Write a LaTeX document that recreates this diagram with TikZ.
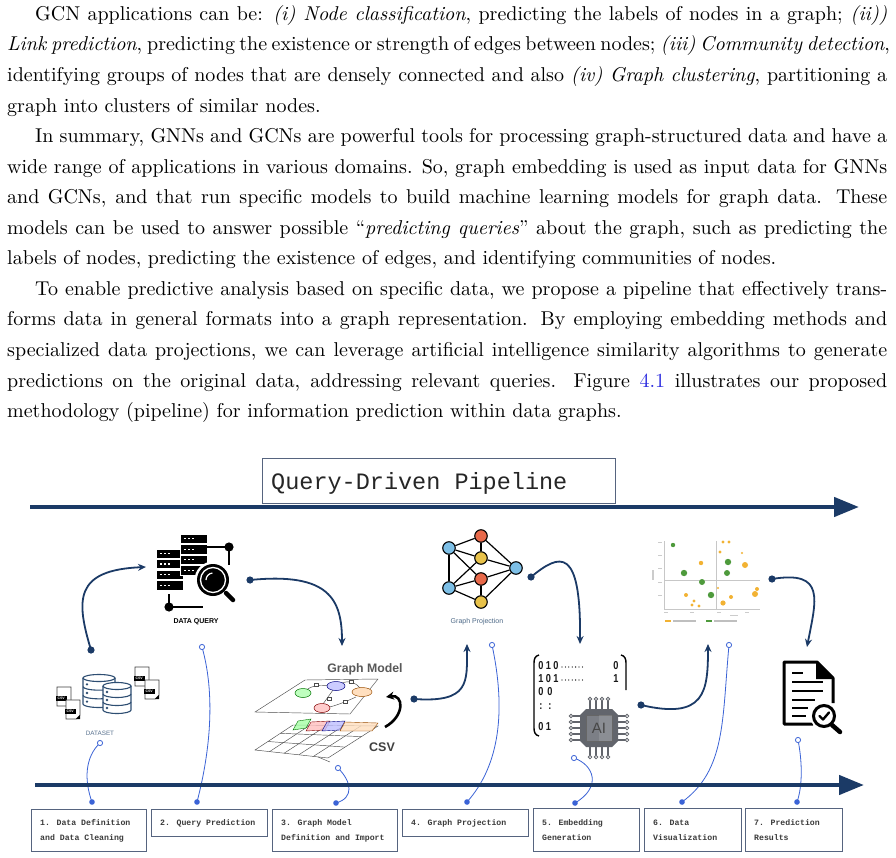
\documentclass[tikz,border=0pt]{standalone}
\usepackage{fontspec}
\setmainfont{lmroman10-regular.otf}[ItalicFont=lmroman10-italic.otf,BoldFont=lmroman10-bold.otf]
\newfontfamily\monofont{Liberation Mono}
\newfontfamily\sansfont{Liberation Sans}
\usetikzlibrary{arrows.meta}
\definecolor{navyc}{HTML}{1B3A66}
\definecolor{thinblue}{HTML}{3B63D6}
\definecolor{boxc}{HTML}{56647F}
\definecolor{txtgray}{HTML}{3A3A3A}
\definecolor{linkblue}{HTML}{2B2BE0}
\definecolor{dbc}{HTML}{2E4E72}
\definecolor{gpblue}{HTML}{7DBFE6}
\definecolor{gpred}{HTML}{E8694A}
\definecolor{gpyel}{HTML}{E8C24A}
\definecolor{scgreen}{HTML}{4E9A3C}
\definecolor{scorange}{HTML}{F2B233}
\definecolor{chipc}{HTML}{62656C}
\definecolor{chipin}{HTML}{7C7F86}
\tikzset{
  txtline/.style={anchor=base west,inner sep=0pt,font=\fontsize{20}{22}\selectfont},
  bigarrow/.style={draw=navyc,line width=4.5pt,-{Triangle[length=25pt,width=19pt]}},
  navyline/.style={draw=navyc,line width=1.8pt,-{Stealth[length=8pt,width=7pt]}},
  navydot/.style={fill=navyc},
  blueline/.style={draw=thinblue,line width=0.8pt},
  bluedot/.style={fill=thinblue},
  blueopen/.style={draw=thinblue,line width=0.8pt,fill=white},
  stepbox/.style={draw=boxc,line width=1pt,fill=white},
  steptext/.style={anchor=base west,inner sep=0pt,text=txtgray,font=\monofont\bfseries\fontsize{8.2}{10}\selectfont},
  dbline/.style={draw=dbc,line width=1.1pt},
  sketch/.style={draw=black!70,line width=0.45pt},
  gpnode/.style={circle,draw=black,line width=1.1pt,minimum size=12.5pt,inner sep=0pt},
  gpedge/.style={draw=black,line width=1.2pt},
  digit/.style={inner sep=0pt,font=\sansfont\bfseries\fontsize{11.5}{12}\selectfont,text=black!90},
  axisc/.style={draw=black!22,line width=0.8pt},
}
\newcommand\mydig[1]{\scalebox{0.8}[1]{#1}}
\newcommand\mydbcyl[4]{%
  \fill[white] (#1-#3,#2) rectangle (#1+#3,#2+#4);
  \fill[white] (#1,#2+#4) ellipse[x radius=#3,y radius=3.5];
  \draw[dbline] (#1-#3,#2) -- (#1-#3,#2+#4) arc[start angle=180,end angle=0,x radius=#3,y radius=3.5] -- (#1+#3,#2);
  \draw[dbline] (#1-#3,#2+#4/3) arc[start angle=180,end angle=0,x radius=#3,y radius=3.5];
  \draw[dbline] (#1-#3,#2+2*#4/3) arc[start angle=180,end angle=0,x radius=#3,y radius=3.5];
  \draw[dbline,fill=white] (#1,#2) ellipse[x radius=#3,y radius=3.5];
  \fill[dbc] (#1-#3+4,#2+#4/6+2) circle (1.3);
  \fill[dbc] (#1-#3+4,#2+#4/2+2) circle (1.3);
  \fill[dbc] (#1-#3+4,#2+5*#4/6+2) circle (1.3);
}
\newcommand\mycsvdoc[2]{%
  \draw[draw=black!75,line width=0.7pt,fill=white] (#1,#2) -- (#1+14,#2) -- (#1+14,#2+15) -- (#1+10,#2+19) -- (#1,#2+19) -- cycle;
  \fill[black] (#1+14,#2+15) -- (#1+14,#2+19) -- (#1+10,#2+19) -- cycle;
  \fill[black] (#1-1.5,#2+8.5) rectangle (#1+10,#2+13.5);
  \node[inner sep=0pt,text=white,font=\sansfont\bfseries\fontsize{3.5}{4}\selectfont] at (#1+4.2,#2+11) {CSV};
}
\newcommand\myserver[3]{%
  \draw[fill=black,draw=white,line width=0.9pt] (#1,#2) rectangle (#1+27,#2+#3);
  \fill[white] (#1+4,#2+#3/2-0.7) rectangle (#1+6.2,#2+#3/2+0.7);
  \fill[white] (#1+8,#2+#3/2-0.7) rectangle (#1+10.2,#2+#3/2+0.7);
  \fill[white] (#1+12,#2+#3/2-0.7) rectangle (#1+14.2,#2+#3/2+0.7);
}
\begin{document}
\begin{tikzpicture}[x=1pt,y=-1pt]
\useasboundingbox (0,0) rectangle (896,858);
\fill[white] (0,0) rectangle (896,858);

% ---------------- text ----------------
\node[txtline] (l1) at (35,20.5) {\makebox[852pt][s]{GCN applications can be: \textit{(i) Node classification}, predicting the labels of nodes in a graph; \textit{(ii))}}};
\node[txtline] (l2) at (7,51) {\makebox[880pt][s]{\textit{Link prediction}, predicting the existence or strength of edges between nodes; \textit{(iii) Community detection},}};
\node[txtline] (l3) at (7,81.6) {\makebox[880pt][s]{identifying groups of nodes that are densely connected and also \textit{(iv) Graph clustering}, partitioning a}};
\node[txtline] (l4) at (7,112.2) {graph into clusters of similar nodes.};
\node[txtline] (l5) at (35,142.7) {\makebox[852pt][s]{In summary, GNNs and GCNs are powerful tools for processing graph-structured data and have a}};
\node[txtline] (l6) at (7,173.3) {\makebox[880pt][s]{wide range of applications in various domains. So, graph embedding is used as input data for GNNs}};
\node[txtline] (l7) at (7,203.8) {\makebox[880pt][s]{and GCNs, and that run specific models to build machine learning models for graph data. These}};
\node[txtline] (l8) at (7,234.4) {\makebox[880pt][s]{models can be used to answer possible “\textit{predicting queries}” about the graph, such as predicting the}};
\node[txtline] (l9) at (7,264.9) {labels of nodes, predicting the existence of edges, and identifying communities of nodes.};
\node[txtline] (l10) at (35,295.5) {\makebox[852pt][s]{To enable predictive analysis based on specific data, we propose a pipeline that effectively trans-}};
\node[txtline] (l11) at (7,326) {\makebox[880pt][s]{forms data in general formats into a graph representation. By employing embedding methods and}};
\node[txtline] (l12) at (7,356.6) {\makebox[880pt][s]{specialized data projections, we can leverage artificial intelligence similarity algorithms to generate}};
\node[txtline] (l13) at (7,387.1) {\makebox[880pt][s]{predictions on the original data, addressing relevant queries. Figure \textcolor{linkblue}{4.1} illustrates our proposed}};
\node[txtline] (l14) at (7,417.7) {methodology (pipeline) for information prediction within data graphs.};

% ---------------- title and big arrows ----------------
\node[draw=boxc,line width=0.9pt,minimum width=353pt,minimum height=45pt,inner sep=0pt] (title) at (438.5,480.5) {};
\node[anchor=base west,inner sep=0pt,text=black!85,font=\monofont\fontsize{23.5}{26}\selectfont] (titletxt) at (271,489) {Query-Driven Pipeline};
\coordinate (ta0) at (30,507);
\coordinate (ta1) at (859,507);
\draw[bigarrow] (ta0) -- (ta1);

% ---------------- thin blue connectors ----------------
\coordinate (c1a) at (100,743); \coordinate (c1b) at (92,802);
\coordinate (c2a) at (202,647); \coordinate (c2b) at (197,802);
\coordinate (c3a) at (338,768); \coordinate (c3b) at (336,803);
\coordinate (c4a) at (492,645); \coordinate (c4b) at (467,802);
\coordinate (c5a) at (574,758); \coordinate (c5b) at (575,803);
\coordinate (c6a) at (729,645); \coordinate (c6b) at (682,802);
\coordinate (c7a) at (798,740); \coordinate (c7b) at (797,802);
\draw[blueline] (c1a) .. controls (85,757) and (84,780) .. (c1b);
\draw[blueline] (c2a) .. controls (217,700) and (208,760) .. (c2b);
\draw[blueline] (c3a) .. controls (352,782) and (354,798) .. (c3b);
\draw[blueline] (c4a) .. controls (506,710) and (500,765) .. (c4b);
\draw[blueline] (c5a) .. controls (594,765) and (602,787) .. (c5b);
\draw[blueline] (c6a) .. controls (722,720) and (726,770) .. (c6b);
\draw[blueline] (c7a) .. controls (802,760) and (803,785) .. (c7b);

% bottom arrow
\coordinate (ba0) at (35,785);
\coordinate (ba1) at (864,785);
\draw[bigarrow] (ba0) -- (ba1);

\foreach \p in {c1a,c2a,c3a,c4a,c5a,c6a,c7a} \draw[blueopen] (\p) circle (2.6);
\foreach \p in {c1b,c2b,c3b,c4b,c5b,c6b,c7b} \fill[bluedot] (\p) circle (2.8);

% ---------------- step boxes ----------------
\node[stepbox,minimum width=115pt,minimum height=42pt,inner sep=0pt] (b1) at (88.5,830) {};
\node[stepbox,minimum width=116pt,minimum height=27pt,inner sep=0pt] (b2) at (209,822.5) {};
\node[stepbox,minimum width=125pt,minimum height=42pt,inner sep=0pt] (b3) at (334.5,830) {};
\node[stepbox,minimum width=126pt,minimum height=27pt,inner sep=0pt] (b4) at (465,822.5) {};
\node[stepbox,minimum width=106pt,minimum height=43pt,inner sep=0pt] (b5) at (586,829.5) {};
\node[stepbox,minimum width=97pt,minimum height=43pt,inner sep=0pt] (b6) at (692.5,829.5) {};
\node[stepbox,minimum width=97pt,minimum height=43pt,inner sep=0pt] (b7) at (793.5,829.5) {};
\node[steptext] (t1a) at (40,825.5) {1. Data Definition};
\node[steptext] (t1b) at (40,840.5) {and Data Cleaning};
\node[steptext] (t2a) at (160,825.5) {2. Query Prediction};
\node[steptext] (t3a) at (281,825.5) {3. Graph Model};
\node[steptext] (t3b) at (281,840.5) {Definition and Import};
\node[steptext] (t4a) at (411,825.5) {4. Graph Projection};
\node[steptext] (t5a) at (542,825) {5. Embedding};
\node[steptext] (t5b) at (542,840) {Generation};
\node[steptext] (t6a) at (653,825) {6. Data};
\node[steptext] (t6b) at (653,840) {Visualization};
\node[steptext] (t7a) at (754,825) {7. Prediction};
\node[steptext] (t7b) at (754,840) {Results};

% ---------------- DATASET icon ----------------
\mycsvdoc{57}{687}
\mycsvdoc{66}{700}
\mycsvdoc{135}{667}
\mycsvdoc{145}{680}
\mydbcyl{99}{678}{16}{26}
\mydbcyl{117}{686}{14}{24}
\node[inner sep=0pt,text=dbc!80,font=\sansfont\fontsize{6.3}{7}\selectfont] (dslabel) at (100,733) {DATASET};

% ---------------- DATA QUERY icon ----------------
\myserver{156}{549}{9}
\myserver{156}{559.5}{9}
\myserver{156}{570}{9}
\myserver{156}{580.5}{9.5}
\myserver{180}{534}{9.5}
\myserver{180}{544.5}{9.5}
\myserver{180}{555}{9.5}
\myserver{180}{565.5}{9.5}
\fill[white] (213,580) circle (18.5);
\fill[black] (213,580) circle (16);
\draw[white,line width=1.3pt] (213,580) circle (12.5);
\draw[white,line width=1.2pt] (206,580) arc[start angle=180,end angle=265,radius=7];
\draw[black,line width=4.5pt,line cap=round] (226,593) -- (233,600);
\draw[black,line width=1.3pt] (207,547) -- (229,547) -- (229,565);
\fill[black] (229,547) circle (4.6);
\draw[black,line width=1.3pt] (169,594) -- (169,607) -- (203,607);
\fill[black] (169,607) circle (4.6);
\node[inner sep=0pt,font=\sansfont\bfseries\fontsize{7}{8}\selectfont] (dqlabel) at (196,622) {DATA QUERY};

% ---------------- Graph model icon ----------------
\node[inner sep=0pt,text=black!65,font=\sansfont\bfseries\fontsize{12.3}{14}\selectfont] (gmlabel) at (365,669) {Graph Model};
\node[inner sep=0pt,text=black!75,font=\sansfont\bfseries\fontsize{12.5}{14}\selectfont] (csvlabel) at (382,747) {CSV};
\draw[sketch,fill=white] (305,680) -- (378,679) -- (350,714) -- (255,712) -- cycle;
\draw[sketch] (329,686) .. controls (318,684) and (312,686) .. (306,690);
\draw[sketch] (342,683) .. controls (350,680) and (356,683) .. (360,688);
\draw[sketch] (333,690) -- (323,704);
\draw[sketch] (356,697) .. controls (345,702) and (335,706) .. (329,707);
\draw[sketch,fill=white] (314,683.5) rectangle (318,686.5);
\draw[sketch,fill=white] (349,680) rectangle (353,683);
\draw[sketch,fill=white] (327,697) rectangle (331,700);
\draw[sketch,fill=white] (343,700) rectangle (347,703);
\draw[draw=green!45!black,line width=0.5pt,fill=green!25] (303,693) ellipse[x radius=8,y radius=4.5];
\draw[draw=blue!50!black,line width=0.5pt,fill=blue!20] (336,686) ellipse[x radius=9,y radius=4.5];
\draw[draw=orange!60!black,line width=0.5pt,fill=orange!25] (362,692) ellipse[x radius=10,y radius=4.5];
\draw[draw=red!50!black,line width=0.5pt,fill=red!20] (322,708) ellipse[x radius=8,y radius=4.5];
% table
\draw[sketch,fill=white] (293,725) -- (378,726) -- (328,758) -- (255,750) -- cycle;
\draw[sketch] (310,725.2) -- (269.6,751.6);
\draw[sketch] (327,725.4) -- (284.2,753.2);
\draw[sketch] (344,725.6) -- (298.8,754.8);
\draw[sketch] (361,725.8) -- (313.4,756.4);
\draw[sketch] (280.5,733.3) -- (361.5,736.6);
\draw[sketch] (268,741.5) -- (345,747.1);
\draw[sketch] (318,757) -- (330,762);
\draw[draw=green!45!black,line width=0.4pt,fill=green!35,fill opacity=0.8] (298,721) -- (311,719) -- (306,728) -- (293,730) -- cycle;
\draw[draw=red!50!black,line width=0.4pt,fill=red!25,fill opacity=0.8] (311,722) -- (330,721) -- (325,730) -- (306,731) -- cycle;
\draw[draw=blue!50!black,line width=0.4pt,fill=blue!25,fill opacity=0.8] (327,722) -- (345,721) -- (340,730) -- (322,731) -- cycle;
\draw[draw=orange!60!black,line width=0.4pt,fill=orange!25,fill opacity=0.8] (345,722) -- (378,723) -- (372,731) -- (340,731) -- cycle;
\coordinate (csva) at (385,727);
\coordinate (csvb) at (386,697);
\draw[black,line width=2.6pt,-{Stealth[length=8pt,width=8pt]}] (csva) .. controls (405,716) and (404,694) .. (csvb);

% ---------------- Graph projection ----------------
\node[gpnode,fill=gpblue] (g1) at (449,548) {};
\node[gpnode,fill=gpred] (g2) at (481,536) {};
\node[gpnode,fill=gpyel] (g3) at (481,558) {};
\node[gpnode,fill=gpblue] (g4) at (516,568) {};
\node[gpnode,fill=gpred] (g5) at (481,579) {};
\node[gpnode,fill=gpblue] (g6) at (449,588) {};
\node[gpnode,fill=gpyel] (g7) at (481,602) {};
\draw[gpedge] (g1) -- (g2);
\draw[gpedge] (g1) -- (g3);
\draw[gpedge] (g1) -- (g6);
\draw[gpedge] (g1) -- (g5);
\draw[gpedge] (g2) -- (g3);
\draw[gpedge] (g2) -- (g4);
\draw[gpedge] (g3) -- (g4);
\draw[gpedge] (g3) -- (g6);
\draw[gpedge] (g5) -- (g4);
\draw[gpedge] (g5) -- (g6);
\draw[gpedge] (g5) -- (g7);
\draw[gpedge] (g6) -- (g7);
\draw[gpedge] (g7) -- (g4);
\node[inner sep=0pt,text=dbc!85,font=\sansfont\fontsize{7}{8}\selectfont] (gplabel) at (477,622) {Graph Projection};

% ---------------- Embedding matrix + AI chip ----------------
\draw[black,line width=1.4pt] (539,655) .. controls (535,656) and (534,659) .. (534,663) -- (534,728) .. controls (534,732) and (535,735) .. (539,736);
\draw[black,line width=1.4pt] (621,655) .. controls (625,656) and (626,659) .. (626,663) -- (626,690);
\node[digit] (m11) at (541,666) {\mydig{0}};
\node[digit] (m12) at (548.5,666) {\mydig{1}};
\node[digit] (m13) at (556,666) {\mydig{0}};
\node[digit] (m14) at (616,666) {\mydig{0}};
\node[digit] (m21) at (541,679) {\mydig{1}};
\node[digit] (m22) at (548.5,679) {\mydig{0}};
\node[digit] (m23) at (556,679) {\mydig{1}};
\node[digit] (m24) at (616,679) {\mydig{1}};
\node[digit] (m31) at (541,692) {\mydig{0}};
\node[digit] (m32) at (550,692) {\mydig{0}};
\node[digit] (m41) at (541,707) {\mydig{:}};
\node[digit] (m42) at (550,707) {\mydig{:}};
\node[digit] (m51) at (541,727) {\mydig{0}};
\node[digit] (m52) at (548.5,727) {\mydig{1}};
\foreach \xx in {562,565.4,...,584} {\fill[black] (\xx,667) circle (0.65); \fill[black] (\xx,680) circle (0.65);}
% chip
\fill[white] (574,700) rectangle (624,755);
\foreach \xx in {590,596,602,608} {
  \draw[chipc,line width=1.3pt] (\xx,712) -- (\xx,701);
  \draw[chipc,line width=0.8pt,fill=white] (\xx,699) circle (1.8);
  \draw[chipc,line width=1.3pt] (\xx,744) -- (\xx,755);
  \draw[chipc,line width=0.8pt,fill=white] (\xx,757) circle (1.8);
}
\foreach \yy in {716,722,728,734,740} {
  \draw[chipc,line width=1.3pt] (584,\yy) -- (573,\yy);
  \draw[chipc,line width=0.8pt,fill=white] (571,\yy) circle (1.8);
  \draw[chipc,line width=1.3pt] (614,\yy) -- (625,\yy);
  \draw[chipc,line width=0.8pt,fill=white] (627,\yy) circle (1.8);
}
\fill[chipc] (586,709) -- (612,709) -- (618,715) -- (618,741) -- (612,747) -- (586,747) -- (580,741) -- (580,715) -- cycle;
\draw[black!60,line width=0.7pt,fill=chipin] (586,715) rectangle (612,741);
\fill[white,opacity=0.12] (599,715) rectangle (612,741);
\node[inner sep=0pt,text=black!72,font=\sansfont\fontsize{15}{16}\selectfont] (ailabel) at (599,728.5) {AI};

% ---------------- Scatter chart ----------------
\draw[axisc] (664,541) -- (664,609) -- (760,609);
\draw[axisc] (716,541) -- (716,609);
\draw[axisc] (664,580) -- (760,580);
\foreach \yy in {542,555,568,582,595} \draw[black!20,line width=0.8pt] (658,\yy) -- (662,\yy);
\draw[black!20,line width=1.2pt] (653,570) -- (653,580);
\foreach \xx in {666,692,719,747} \draw[black!20,line width=0.8pt] (\xx-2,612) -- (\xx+2,612);
\draw[black!20,line width=0.8pt] (730,615) -- (738,615);
\draw[scorange,line width=1.8pt] (665,621) -- (671,621);
\draw[black!25,line width=1.2pt] (673,621) -- (696,621);
\draw[scgreen,line width=1.8pt] (706,621) -- (712,621);
\draw[black!25,line width=1.2pt] (714,621) -- (737,621);
\foreach \px/\py/\pr in {673/545/2.2,684/573/3.2,702/582/3,728/562/3.2,727/573/3,711/595/3.2}
  \fill[scgreen] (\px,\py) circle (\pr);
\foreach \px/\py/\pr in {723/542/1.6,729/542/1.6,720/552/1.6,742/553/1.1,701/563/2.2,745/565/3,718/588/1.1,757/589/2,755/594/3,731/597/2,723/603/2.6,686/595/2,694/601/1.6,692/605/1.6,699/606/1.6}
  \fill[scorange] (\px,\py) circle (\pr);

% ---------------- Prediction results icon ----------------
\draw[black,line width=3pt,line join=round,fill=white] (813,724) -- (784,724) -- (784,662) -- (817,662) -- (833,678) -- (833,703);
\fill[black] (816,662) -- (833,679) -- (816,679) -- cycle;
\foreach \yy/\xe in {673/803,682/823,691/823,700/815,708/808,716/806}
  \draw[black,line width=2pt] (792,\yy) -- (\xe,\yy);
\fill[white] (824,716) circle (14);
\draw[black,line width=3pt,fill=white] (824,716) circle (10.5);
\draw[black,line width=2.4pt,line cap=round,line join=round] (819.5,716) -- (823,719.5) -- (829,712.5);
\draw[black,line width=4.5pt,line cap=round] (832,725) -- (840,732);

% ---------------- navy connectors ----------------
\coordinate (na0) at (91,650); \coordinate (na1) at (146,567);
\coordinate (nb0) at (250,580); \coordinate (nb1) at (342,646);
\coordinate (nc0) at (414,699); \coordinate (nc1) at (467,644);
\coordinate (nd0) at (531,577); \coordinate (nd1) at (580,644);
\coordinate (ne0) at (641,705); \coordinate (ne1) at (708,644);
\coordinate (nf0) at (772,579); \coordinate (nf1) at (807,647);
\draw[navyline] (na0) .. controls (76,600) and (74,570) .. (na1);
\draw[navyline] (nb0) .. controls (330,572) and (342,600) .. (nb1);
\draw[navyline] (nc0) .. controls (470,703) and (467,682) .. (nc1);
\draw[navyline] (nd0) .. controls (560,553) and (581,546) .. (nd1);
\draw[navyline] (ne0) .. controls (705,720) and (708,692) .. (ne1);
\draw[navyline] (nf0) .. controls (826,570) and (816,600) .. (nf1);
\foreach \p in {na0,nb0,nc0,nd0,ne0,nf0} \fill[navydot] (\p) circle (3.6);
\end{tikzpicture}
\end{document}
